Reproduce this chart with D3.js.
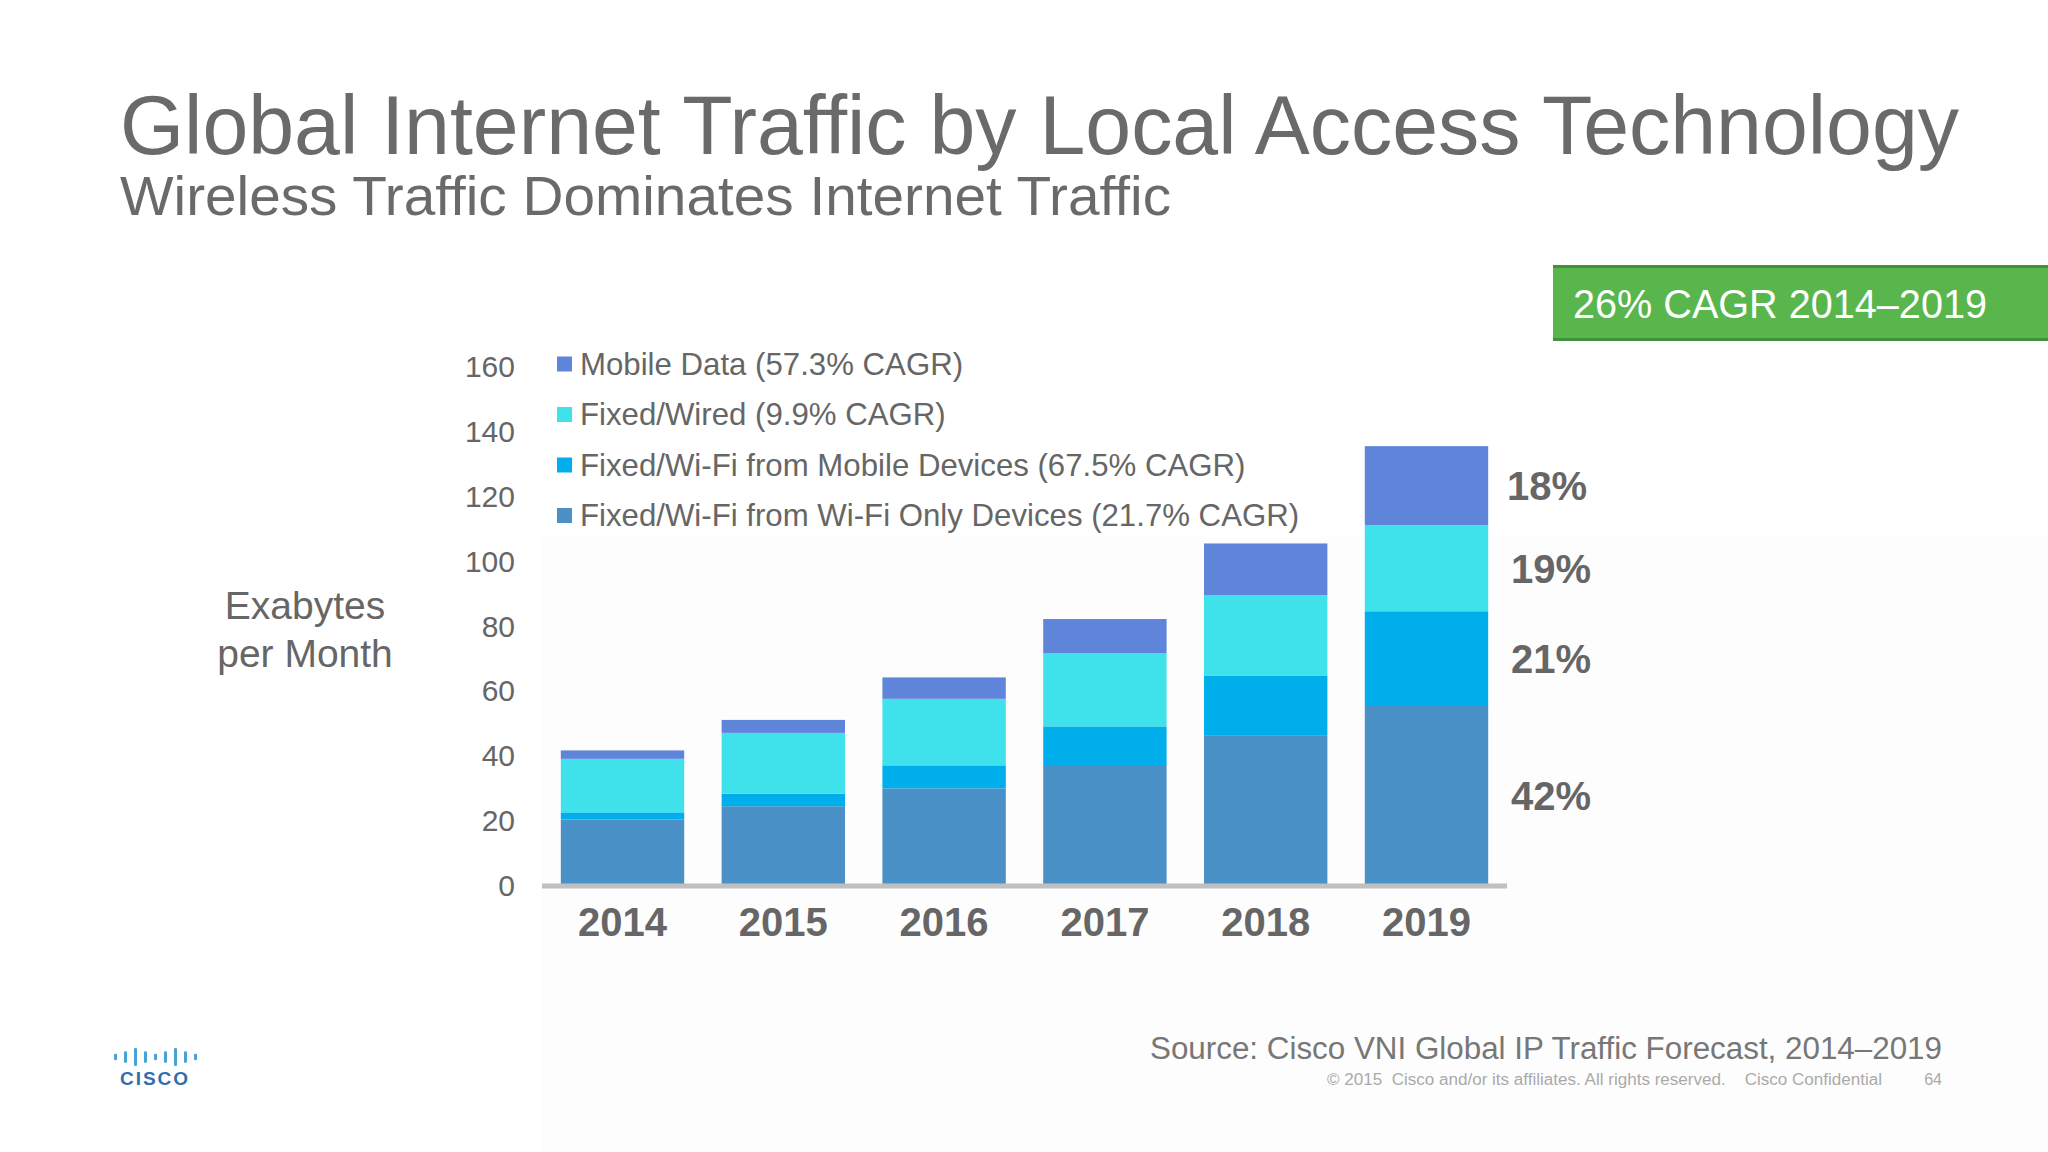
<!DOCTYPE html>
<html>
<head>
<meta charset="utf-8">
<script src="https://cdn.jsdelivr.net/npm/d3@7"></script>
<style>
  html, body { margin: 0; padding: 0; background: #ffffff; }
  svg { display: block; font-family: "Liberation Sans", Arial, sans-serif; }
</style>
</head>
<body>
<svg id="chart" width="2048" height="1152"></svg>
<script>
// ---- data ----
const years = ["2014", "2015", "2016", "2017", "2018", "2019"];
const wifiOnly   = [20.5, 24.6, 30.1, 37.3, 46.3, 55.8];
const wifiMobile = [2.2, 3.9, 7.1, 11.9, 18.6, 28.9];
const fixedWired = [16.5, 18.7, 20.5, 22.6, 24.7, 26.6];
const mobileData = [2.6, 4.0, 6.6, 10.5, 16.0, 24.3];
const seriesNames = [
  "Fixed/Wi-Fi from Wi-Fi Only Devices (21.7% CAGR)",
  "Fixed/Wi-Fi from Mobile Devices (67.5% CAGR)",
  "Fixed/Wired (9.9% CAGR)",
  "Mobile Data (57.3% CAGR)"
];
const seriesKeys = ["wifiOnly", "wifiMobile", "fixedWired", "mobileData"];
const seriesColors = ["#4a91c7", "#00aeec", "#3fe2ea", "#5f85da"];
const shareLabels2019 = ["42%", "21%", "19%", "18%"];
const yTicks = [0, 20, 40, 60, 80, 100, 120, 140, 160];

const svg = d3.select("#chart");
const textGray = "#666666";

// faint panel behind chart
svg.append("rect").attr("x", 542).attr("y", 537).attr("width", 1506).attr("height", 615)
  .attr("fill", "#fdfdfd");

// title
svg.append("text").attr("x", 120).attr("y", 154)
  .attr("font-size", 84).attr("fill", "#6a6a6a")
  .attr("textLength", 1839).attr("lengthAdjust", "spacingAndGlyphs")
  .text("Global Internet Traffic by Local Access Technology");
svg.append("text").attr("x", 120).attr("y", 215)
  .attr("font-size", 55).attr("fill", "#6a6a6a")
  .attr("textLength", 1051).attr("lengthAdjust", "spacingAndGlyphs")
  .text("Wireless Traffic Dominates Internet Traffic");

// green CAGR box
svg.append("rect").attr("x", 1553).attr("y", 266).attr("width", 495).attr("height", 74)
  .attr("fill", "#58b64c");
svg.append("rect").attr("x", 1553).attr("y", 265).attr("width", 495).attr("height", 3).attr("fill", "#3f923a");
svg.append("rect").attr("x", 1553).attr("y", 338).attr("width", 495).attr("height", 3).attr("fill", "#3f923a");
svg.append("text").attr("x", 1573).attr("y", 318)
  .attr("font-size", 40).attr("fill", "#ffffff")
  .attr("textLength", 414).attr("lengthAdjust", "spacingAndGlyphs")
  .text("26% CAGR 2014\u20132019");

// scales
const x = d3.scaleBand().domain(years).range([542, 1507]).paddingInner(0.2326).paddingOuter(0.117);
const y = d3.scaleLinear().domain([0, 160]).range([886, 367]);

// stacked data
const table = years.map((yr, i) => ({
  year: yr, wifiOnly: wifiOnly[i], wifiMobile: wifiMobile[i],
  fixedWired: fixedWired[i], mobileData: mobileData[i]
}));
const stacked = d3.stack().keys(seriesKeys)(table);

// bars
svg.append("g").selectAll("g").data(stacked).join("g")
  .attr("fill", (d, i) => seriesColors[i])
  .selectAll("rect").data(d => d).join("rect")
  .attr("x", d => x(d.data.year))
  .attr("width", x.bandwidth())
  .attr("y", d => y(d[1]))
  .attr("height", d => y(d[0]) - y(d[1]));

// x axis baseline
svg.append("line").attr("x1", 542).attr("x2", 1507).attr("y1", 886).attr("y2", 886)
  .attr("stroke", "#c0c0c0").attr("stroke-width", 5);

// y axis
const yAxis = svg.append("g").attr("transform", "translate(542,0)")
  .call(d3.axisLeft(y).tickValues(yTicks).tickSize(0).tickPadding(27));
yAxis.select(".domain").remove();
yAxis.selectAll("text").attr("font-size", 30).attr("fill", textGray)
  .attr("font-family", "'Liberation Sans', Arial, sans-serif");

// x axis labels
const xAxis = svg.append("g").attr("transform", "translate(0,886)")
  .call(d3.axisBottom(x).tickSize(0).tickPadding(22));
xAxis.select(".domain").remove();
xAxis.selectAll("text").attr("font-size", 40).attr("font-weight", "bold").attr("fill", textGray)
  .attr("font-family", "'Liberation Sans', Arial, sans-serif").attr("dy", "0.71em");

// y axis title
const yt = svg.append("text").attr("text-anchor", "middle").attr("font-size", 39).attr("fill", textGray);
yt.append("tspan").attr("x", 305).attr("y", 619).text("Exabytes");
yt.append("tspan").attr("x", 305).attr("y", 667).text("per Month");

// legend (top to bottom: mobile, wired, wifi mobile, wifi only)
const legendOrder = [3, 2, 1, 0];
const lg = svg.append("g");
legendOrder.forEach((si, r) => {
  const cy = 364 + r * 50.5;
  lg.append("rect").attr("x", 557).attr("y", cy - 7.5).attr("width", 15).attr("height", 15)
    .attr("fill", seriesColors[si]);
  lg.append("text").attr("x", 580).attr("y", cy).attr("dy", "0.35em")
    .attr("font-size", 31.2).attr("fill", textGray).text(seriesNames[si]);
});

// 2019 share labels, positioned at mid of each 2019 segment
const last = years.length - 1;
stacked.forEach((s, i) => {
  const seg = s[last];
  svg.append("text")
    .attr("x", i === 3 ? 1507 : 1511)
    .attr("y", y((seg[0] + seg[1]) / 2))
    .attr("dy", "0.36em")
    .attr("font-size", 40).attr("font-weight", "bold").attr("fill", textGray)
    .text(shareLabels2019[i]);
});

// source and footer
svg.append("text").attr("x", 1150).attr("y", 1059)
  .attr("font-size", 31).attr("fill", "#777777")
  .attr("textLength", 792).attr("lengthAdjust", "spacingAndGlyphs")
  .text("Source: Cisco VNI Global IP Traffic Forecast, 2014\u20132019");
svg.append("text").attr("x", 1327).attr("y", 1085)
  .attr("font-size", 16).attr("fill", "#aaaaaa").attr("xml:space", "preserve")
  .style("white-space", "pre")
  .attr("textLength", 555).attr("lengthAdjust", "spacingAndGlyphs")
  .text("\u00A9 2015  Cisco and/or its affiliates. All rights reserved.    Cisco Confidential");
svg.append("text").attr("x", 1942).attr("y", 1085).attr("text-anchor", "end")
  .attr("font-size", 16).attr("fill", "#aaaaaa").text("64");

// Cisco logo
const logoBars = [0.35, 0.65, 1, 0.65, 0.35, 0.65, 1, 0.65, 0.35];
const logo = svg.append("g");
logoBars.forEach((h, i) => {
  const bh = 18 * h;
  logo.append("rect").attr("x", 114 + i * 10).attr("y", 1057 - bh / 2)
    .attr("width", 3).attr("height", bh).attr("rx", 1.2).attr("fill", "#4aa0d8");
});
logo.append("text").attr("x", 155).attr("y", 1085).attr("text-anchor", "middle")
  .attr("font-size", 19).attr("font-weight", "bold").attr("fill", "#2f6fb0")
  .attr("letter-spacing", 2).text("CISCO");
</script>
</body>
</html>
